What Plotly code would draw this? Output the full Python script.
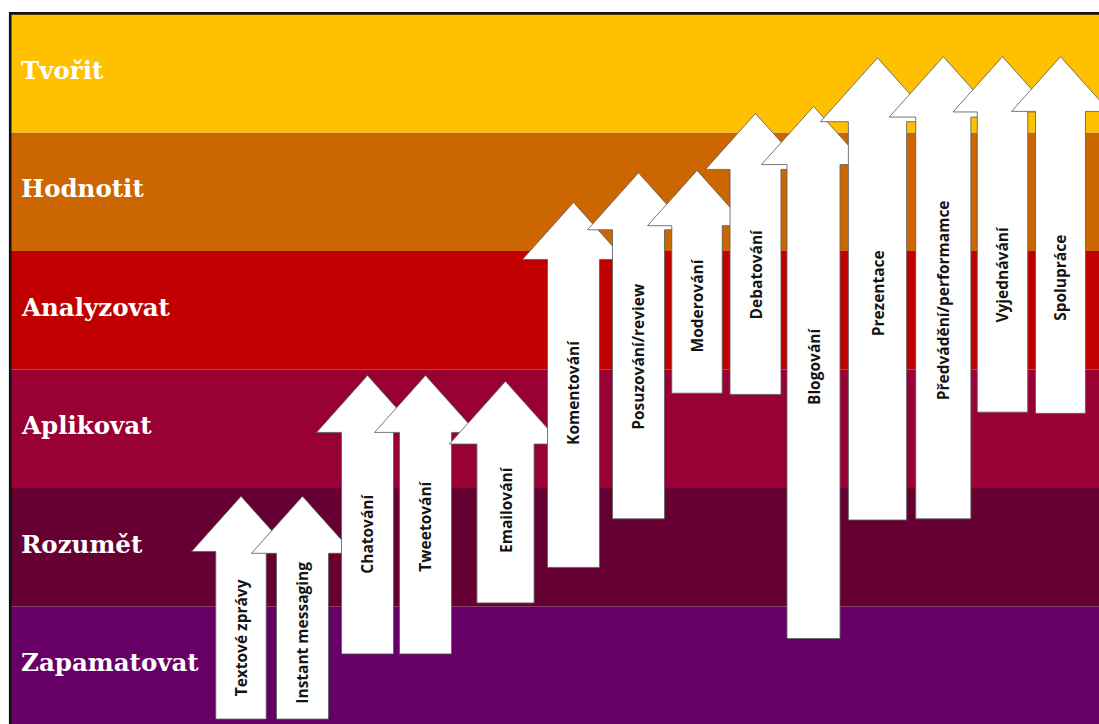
import plotly.graph_objects as go

# ---------------- data ----------------
levels = ["Zapamatovat", "Rozumět", "Aplikovat", "Analyzovat", "Hodnotit", "Tvořit"]
level_colors = ["#660066", "#660033", "#990033", "#C00000", "#CC6600", "#FFC000"]

activities = ["Textové zprávy", "Instant messaging", "Chatování", "Tweetování", "Emailování",
              "Komentování", "Posuzování/review", "Moderování", "Debatování", "Blogování",
              "Prezentace", "Předvádění/performamce", "Vyjednávání", "Spolupráce"]
x_pos = [241, 302.5, 367.5, 425.5, 505.5, 573.5, 638.5, 697, 755.5, 813.5,
         877.5, 943.3, 1002.5, 1060.5]
start_level = [0.05, 0.05, 0.60, 0.60, 1.03, 1.33, 1.74, 2.80, 2.79, 0.73,
               1.73, 1.74, 2.64, 2.63]
end_level = [1.93, 1.93, 2.95, 2.95, 2.90, 4.41, 4.66, 4.68, 5.16, 5.22,
             5.63, 5.64, 5.64, 5.64]

# ---------------- style ----------------
PX = 118.5            # pixels per level
W, H = 1099, 724
arrow_scale = [0.97, 1.0, 1.0, 1.0, 1.1, 1.0, 1.0, 0.97, 0.98, 1.02, 1.12, 1.06, 0.97, 0.96]
label_shift = [-3, 3, 9, 17, 14, 21, 18, 4, 7, 35, 27, 18, -12, -16]  # px, + = up
SHAFT_HW, HEAD_HW, HEAD_H = 26, 51, 57


def lv(py):
    return (725 - py) / PX


fig = go.Figure()

# bands
shapes = []
for i, c in enumerate(level_colors):
    shapes.append(dict(type="rect", xref="x", yref="y", x0=11, x1=W + 5,
                       y0=(i if i > 0 else -0.2), y1=i + 1,
                       fillcolor=c, line=dict(width=0), layer="below"))
# frame lines (left and top)
shapes.append(dict(type="line", xref="x", yref="y", x0=10.2, x1=10.2, y0=-0.2, y1=lv(12.2),
                   line=dict(color="#111111", width=2.6)))
shapes.append(dict(type="line", xref="x", yref="y", x0=9, x1=W + 5, y0=lv(13.4), y1=lv(13.4),
                   line=dict(color="#111111", width=2.8)))

# arrows
annotations = []
for k, name in enumerate(activities):
    s = arrow_scale[k]
    cx = x_pos[k]
    sw = SHAFT_HW * s
    hw = HEAD_HW * s
    hh = HEAD_H * s / PX
    top = end_level[k]
    sh = top - hh
    bot = start_level[k]
    xs = [cx - sw, cx - sw, cx - hw, cx, cx + hw, cx + sw, cx + sw, cx - sw]
    ys = [bot, sh, sh, top, sh, sh, bot, bot]
    fig.add_trace(go.Scatter(x=xs, y=ys, mode="lines", fill="toself",
                             fillcolor="white",
                             line=dict(color="rgba(95,95,95,0.85)", width=1),
                             hoverinfo="skip", showlegend=False))
    annotations.append(dict(x=cx, y=(sh + bot) / 2, xref="x", yref="y",
                            text="<b>" + name + "</b>", textangle=-90,
                            showarrow=False, yshift=label_shift[k],
                            font=dict(family="Open Sans", size=15.5, color="#141414")))

# level labels
for i, name in enumerate(levels):
    annotations.append(dict(x=19, y=i + 0.5, xref="x", yref="y", xanchor="left",
                            yanchor="middle", text="<b>" + name + "</b>",
                            showarrow=False, yshift=3,
                            font=dict(family="DejaVu Serif", size=24.5, color="white")))

fig.update_layout(
    width=W, height=H,
    margin=dict(l=0, r=0, t=0, b=0),
    paper_bgcolor="white", plot_bgcolor="white",
    shapes=shapes, annotations=annotations,
    xaxis=dict(range=[0, W], visible=False, fixedrange=True),
    yaxis=dict(range=[lv(H), lv(0)], visible=False, fixedrange=True),
    showlegend=False,
)

fig.write_html("out.html",
               config={"displayModeBar": False, "staticPlot": True},
               post_script="document.body.style.margin='0';document.body.style.overflow='hidden';")
